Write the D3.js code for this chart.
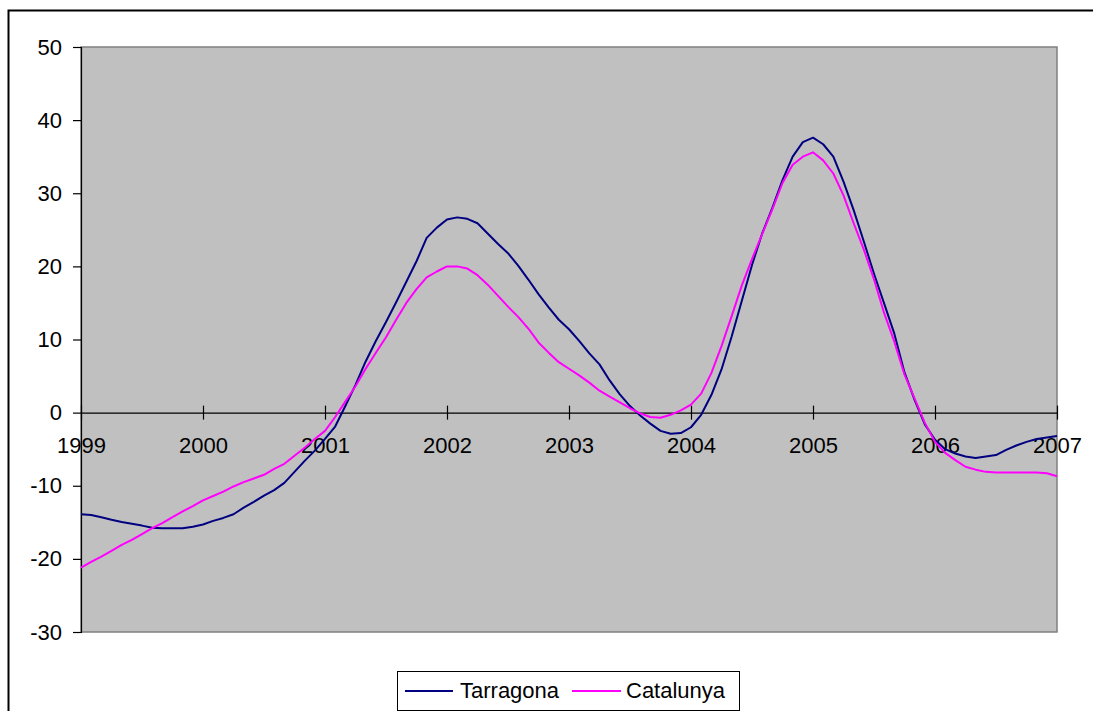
<!DOCTYPE html>
<html>
<head>
<meta charset="utf-8">
<script src="https://cdn.jsdelivr.net/npm/d3@7"></script>
<style>
  html, body { margin: 0; padding: 0; background: #ffffff; }
  svg { display: block; }
  text { font-family: "Liberation Sans", Arial, sans-serif; fill: #000; }
</style>
</head>
<body>
<svg id="chart" width="1093" height="711"></svg>
<script>
// ---- Data (monthly, Jan 1999 .. Jan 2007) ----
const startYear = 1999;
const yearTicks = [1999, 2000, 2001, 2002, 2003, 2004, 2005, 2006, 2007];
const yTicks = [-30, -20, -10, 0, 10, 20, 30, 40, 50];
const seriesNames = ["Tarragona", "Catalunya"];

const tarragona = [
  -13.9, -14.0, -14.3, -14.65, -14.95, -15.2, -15.45, -15.75, -15.8, -15.8, -15.8, -15.6,
  -15.3, -14.8, -14.4, -13.9, -13.0, -12.2, -11.35, -10.6, -9.6, -8.1, -6.6, -5.2,
  -3.6, -1.9, 0.9, 3.8, 7.0, 9.8, 12.4, 15.1, 17.9, 20.7, 23.9, 25.3,
  26.4, 26.7, 26.5, 25.9, 24.5, 23.1, 21.8, 20.1, 18.2, 16.2, 14.4, 12.7,
  11.4, 9.8, 8.1, 6.6, 4.4, 2.5, 0.9, -0.4, -1.5, -2.5, -2.9, -2.8,
  -2.0, -0.3, 2.4, 5.9, 10.4, 15.3, 20.2, 24.5, 28.0, 31.8, 35.0, 37.0,
  37.6, 36.7, 35.0, 31.6, 27.7, 23.4, 19.0, 14.9, 10.8, 5.5, 1.7, -1.6,
  -3.7, -5.0, -5.6, -6.0, -6.2, -6.0, -5.8, -5.1, -4.5, -4.0, -3.6, -3.4,
  -3.2
];

const catalunya = [
  -21.2, -20.4, -19.7, -18.9, -18.1, -17.4, -16.6, -15.8, -15.1, -14.3, -13.5, -12.8,
  -12.0, -11.4, -10.8, -10.1, -9.5, -9.0, -8.5, -7.7, -7.0, -5.9, -4.8, -3.6,
  -2.5, -0.6, 1.5, 3.6, 6.0, 8.2, 10.3, 12.7, 15.0, 16.9, 18.5, 19.3,
  20.0, 20.0, 19.7, 18.8, 17.5, 16.0, 14.5, 13.1, 11.5, 9.6, 8.2, 6.9,
  6.0, 5.1, 4.1, 3.0, 2.2, 1.4, 0.6, -0.1, -0.6, -0.7, -0.3, 0.3,
  1.1, 2.6, 5.4, 9.1, 13.2, 17.4, 21.0, 24.4, 27.8, 31.4, 33.9, 35.0,
  35.6, 34.5, 32.7, 29.7, 25.9, 22.3, 18.2, 13.6, 9.7, 5.2, 1.9, -1.4,
  -4.0, -5.5, -6.5, -7.4, -7.8, -8.1, -8.2, -8.2, -8.2, -8.2, -8.2, -8.3,
  -8.7
];

const colors = ["#000080", "#FF00FF"];

// ---- Layout ----
const svg = d3.select("#chart");
const plot = { left: 81, top: 47, right: 1057, bottom: 632 };
const fontSize = "22px";

// outer chart border (extends past the window)
svg.append("rect")
  .attr("x", 8.5).attr("y", 10.5)
  .attr("width", 1200).attr("height", 800)
  .attr("fill", "#fff").attr("stroke", "#000").attr("stroke-width", 2);

const x = d3.scaleLinear().domain([1999, 2007]).range([plot.left, plot.right]);
const y = d3.scaleLinear().domain([-30, 50]).range([plot.bottom, plot.top]);

// plot area
svg.append("rect")
  .attr("x", plot.left).attr("y", plot.top)
  .attr("width", plot.right - plot.left).attr("height", plot.bottom - plot.top)
  .attr("fill", "#C0C0C0").attr("stroke", "#808080").attr("stroke-width", 1.5);

// Y axis
const yAxis = d3.axisLeft(y).tickValues(yTicks).tickSize(8).tickPadding(11).tickFormat(d => String(d));
const gy = svg.append("g").attr("transform", `translate(${plot.left},0)`).call(yAxis);
gy.select(".domain").attr("stroke", "#000").attr("stroke-width", 1.2);
gy.selectAll(".tick line").attr("stroke", "#000").attr("stroke-width", 1.2);
gy.selectAll("text").style("font-size", fontSize).style("font-family", "'Liberation Sans', Arial, sans-serif");

// X axis on zero line, ticks crossing
const xAxis = d3.axisBottom(x).tickValues(yearTicks).tickSize(0).tickPadding(23).tickFormat(d => String(d));
const gx = svg.append("g").attr("transform", `translate(0,${y(0)})`).call(xAxis);
gx.select(".domain").attr("stroke", "#000").attr("stroke-width", 1.2);
gx.selectAll(".tick line").remove();
gx.selectAll(".tick").append("line")
  .attr("y1", -7).attr("y2", 7).attr("stroke", "#000").attr("stroke-width", 1.2);
gx.selectAll("text")
  .attr("y", 40.5).attr("dy", null)
  .style("font-size", fontSize).style("font-family", "'Liberation Sans', Arial, sans-serif");

// lines
const line = d3.line()
  .x((d, i) => x(startYear + i / 12))
  .y(d => y(d));

[tarragona, catalunya].forEach((s, k) => {
  svg.append("path")
    .datum(s)
    .attr("fill", "none")
    .attr("stroke", colors[k])
    .attr("stroke-width", 2)
    .attr("stroke-linejoin", "round")
    .attr("d", line);
});

// legend
const lg = svg.append("g");
lg.append("rect")
  .attr("x", 397.5).attr("y", 671.5).attr("width", 342).attr("height", 39)
  .attr("fill", "#fff").attr("stroke", "#000").attr("stroke-width", 1);
const legendItems = [
  { lx1: 405, lx2: 453, tx: 460 },
  { lx1: 572, lx2: 621, tx: 626 }
];
seriesNames.forEach((name, k) => {
  const it = legendItems[k];
  lg.append("line")
    .attr("x1", it.lx1).attr("x2", it.lx2).attr("y1", 691).attr("y2", 691)
    .attr("stroke", colors[k]).attr("stroke-width", 2);
  lg.append("text")
    .attr("x", it.tx).attr("y", 697.5)
    .style("font-size", fontSize)
    .text(name);
});
</script>
</body>
</html>
